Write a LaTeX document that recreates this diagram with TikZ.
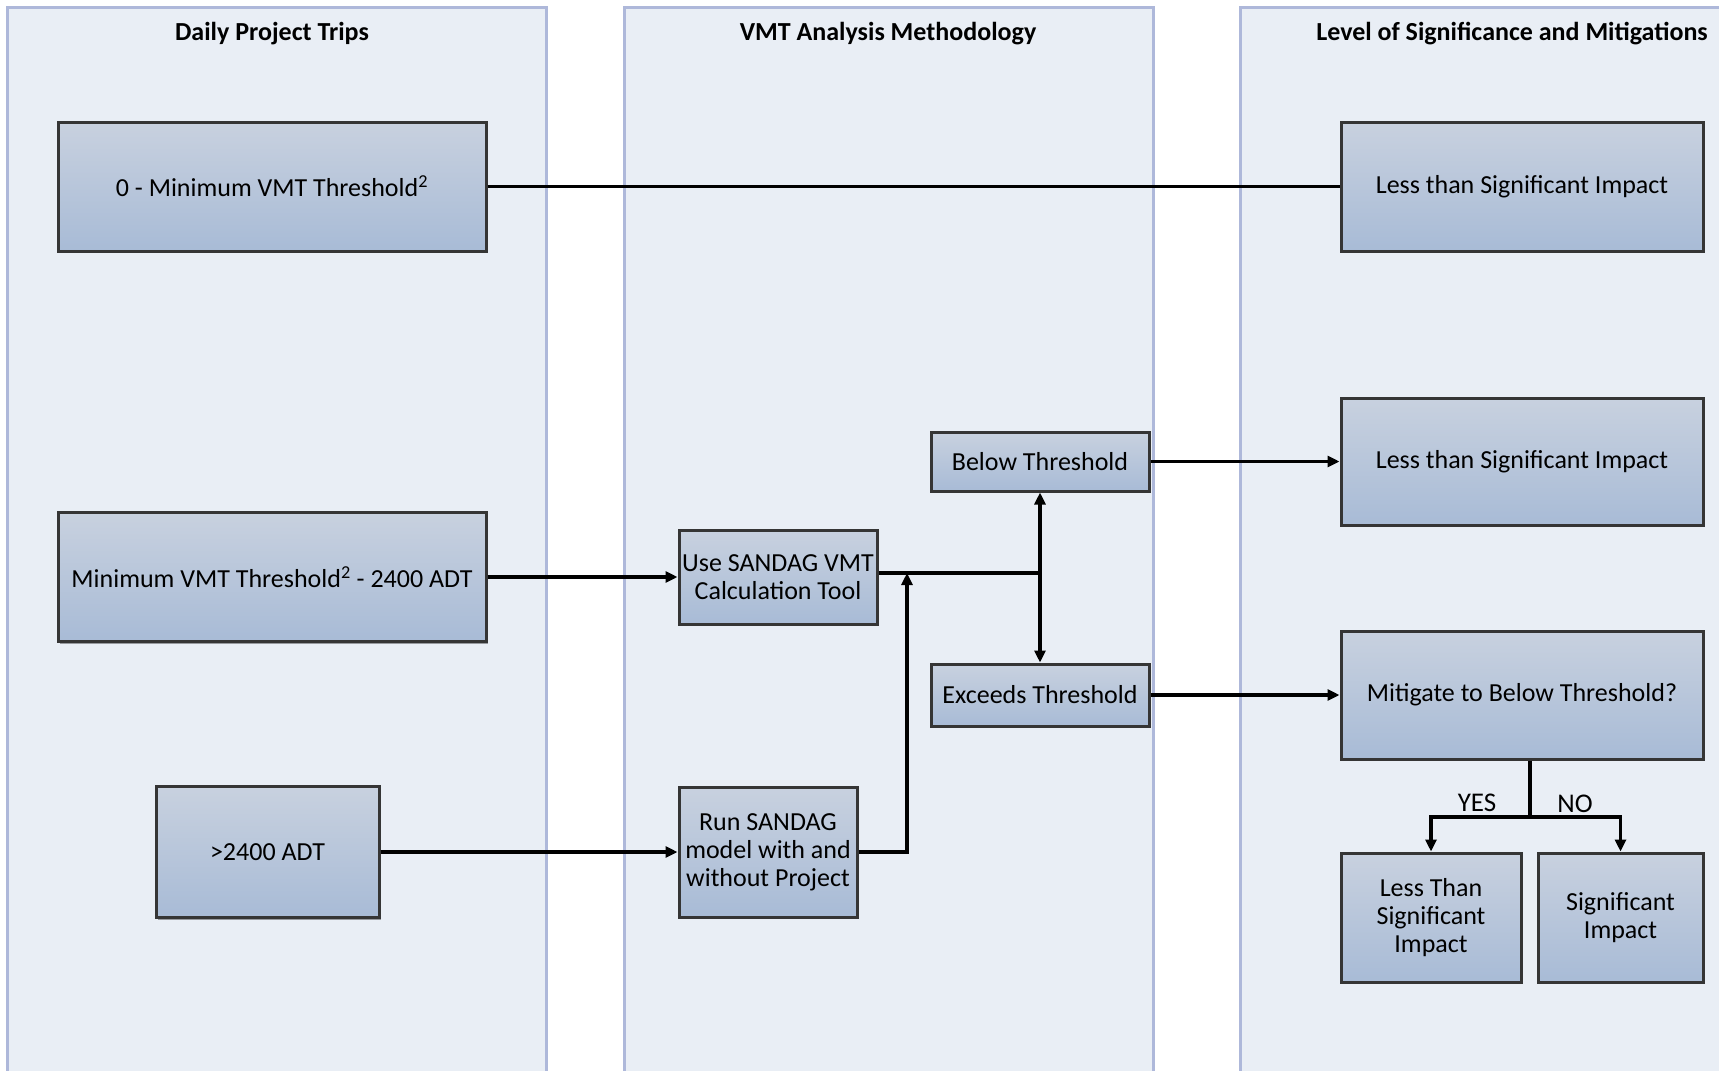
\documentclass[tikz,border=0pt]{standalone}
\usepackage{fontspec}
\setmainfont{Carlito}
\usetikzlibrary{arrows.meta,shadows}
\definecolor{lanefill}{HTML}{E9EEF5}
\definecolor{laneline}{HTML}{AEB8DA}
\definecolor{boxtop}{HTML}{C8D1DF}
\definecolor{boxbot}{HTML}{A8BBD6}
\definecolor{boxline}{HTML}{353535}
\tikzset{
  lane/.style={fill=lanefill,draw=laneline,line width=3pt},
  lanetitle/.style={font=\fontsize{26}{30}\selectfont\bfseries,inner sep=0pt},
  flowbox/.style={draw=boxline,line width=3pt,top color=boxtop,bottom color=boxbot,
    align=center,font=\fontsize{26}{28}\selectfont,inner sep=2pt,
    drop shadow={shadow xshift=2pt,shadow yshift=-2pt,opacity=0.35,fill=black}},
  conn/.style={line width=3.2pt,draw=black},
  arr/.style={conn,-{Triangle[length=12pt,width=11pt]}},
  lbl/.style={font=\fontsize{27}{29}\selectfont,inner sep=0pt}
}
\begin{document}
\begin{tikzpicture}[x=1pt,y=-1pt]
\useasboundingbox (0,0) rectangle (1719,1071);
\clip (0,0) rectangle (1719,1071);
\fill[white] (0,0) rectangle (1719,1071);
% lanes
\draw[lane] (7,7) rectangle (546,1090);
\draw[lane] (624,7) rectangle (1153,1090);
\draw[lane] (1240,7) rectangle (1740,1090);
\node[lanetitle] (t1) at (272,34) {Daily Project Trips};
\node[lanetitle] (t2) at (888,34) {VMT Analysis Methodology};
\node[lanetitle,anchor=east] (t3) at (1708,34) {Level of Significance and Mitigations};
% boxes
\node[flowbox,minimum width=428pt,minimum height=129pt] (A) at (272,186.5) {0 - Minimum VMT Threshold\textsuperscript{2}};
\node[flowbox,minimum width=428pt,minimum height=129pt] (B) at (272,577) {Minimum VMT Threshold\textsuperscript{2} - 2400 ADT};
\node[flowbox,minimum width=223pt,minimum height=131pt] (C) at (267.5,852) {>2400 ADT};
\node[flowbox,minimum width=198pt,minimum height=94pt,inner sep=0pt] (D) at (778,577) {Use SANDAG VMT\\Calculation Tool};
\node[flowbox,minimum width=178pt,minimum height=130pt,inner sep=0pt] (E) at (768,852) {Run SANDAG\\model with and\\without Project};
\node[flowbox,minimum width=218pt,minimum height=59pt] (F) at (1040,461.5) {Below Threshold};
\node[flowbox,minimum width=218pt,minimum height=62pt] (G) at (1040,695) {Exceeds Threshold};
\node[flowbox,minimum width=362pt,minimum height=129pt] (H) at (1522,186.5) {Less than Significant Impact};
\node[flowbox,minimum width=362pt,minimum height=127pt] (I) at (1522,461.5) {Less than Significant Impact};
\node[flowbox,minimum width=362pt,minimum height=128pt] (J) at (1522,695) {Mitigate to Below Threshold?};
\node[flowbox,minimum width=180pt,minimum height=129pt] (K) at (1431,917.5) {Less Than\\Significant\\Impact};
\node[flowbox,minimum width=165pt,minimum height=129pt] (L) at (1620.5,917.5) {Significant\\Impact};
% connectors
\draw[conn] (A.east) -- (H.west);
\draw[arr] (B.east) -- (D.west);
\draw[arr] (C.east) -- (E.west);
\coordinate (m) at (907,573);
\draw[arr] (E.east) -- (E.east -| m) -- (m);
\coordinate (j) at (F.south |- m);
\draw[conn] (D.east |- m) -- (j);
\draw[arr] (j) -- (F.south);
\draw[arr] (j) -- (G.north);
\draw[arr] (F.east) -- (I.west);
\draw[arr] (G.east) -- (J.west);
\coordinate (s) at (1530,817);
\draw[conn] (J.south -| s) -- (s);
\draw[arr] (s) -- (s -| K.north) -- (K.north);
\draw[arr] (s) -- (s -| L.north) -- (L.north);
\node[lbl] (yes) at (1477,803) {YES};
\node[lbl] (no) at (1575,804) {NO};
\end{tikzpicture}
\end{document}
